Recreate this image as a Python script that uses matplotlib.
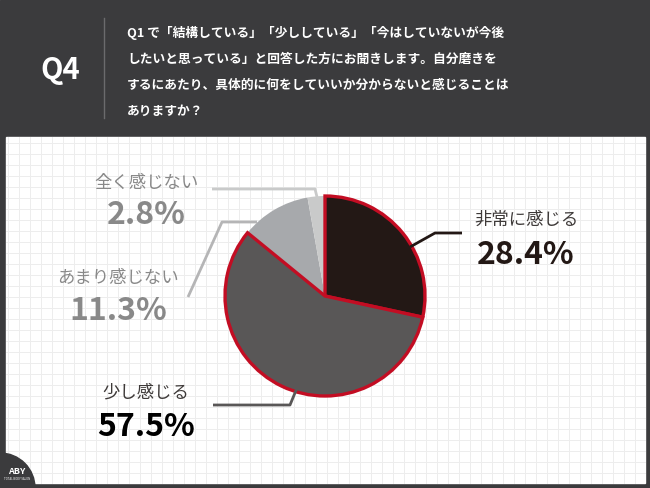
import matplotlib.pyplot as plt
from matplotlib.patches import Rectangle, Circle
import numpy as np

plt.rcParams['font.family'] = ['Noto Sans CJK JP', 'DejaVu Sans']

# データ
kategorie = ["非常に感じる", "少し感じる", "あまり感じない", "全く感じない"]
wartosci = [28.4, 57.5, 11.3, 2.8]
boje = ["#231815", "#595757", "#a7a9ac", "#c9caca"]
crveni_rub = [True, True, False, False]

naslov_q = "Q4"
pitanje = ["Q1 で「結構している」「少ししている」「今はしていないが今後",
           "したいと思っている」と回答した方にお聞きします。自分磨きを",
           "するにあたり、具体的に何をしていいか分からないと感じることは",
           "ありますか？"]

W, H = 650, 488
fig = plt.figure(figsize=(W / 100, H / 100), dpi=100)
ax = fig.add_axes([0, 0, 1, 1])

tamna = "#3b3b3d"
crvena = "#c30d23"

# okvir i bijela ploca
ax.add_patch(Rectangle((0, 0), W, H, color=tamna, zorder=0))
ax.add_patch(Rectangle((6, 137), 639, 346, color="white", zorder=0.5))
for gx in np.arange(8, 645, 11):
    ax.plot([gx, gx], [137, 483], color="#ededed", lw=0.7, zorder=0.6)
for gy in np.arange(143, 483, 11):
    ax.plot([6, 645], [gy, gy], color="#ededed", lw=0.7, zorder=0.6)

# zaglavlje
ax.text(60, 70, naslov_q, color="white", fontsize=21, fontweight="bold",
        ha="center", va="center", zorder=5)
ax.plot([104, 104], [18, 118], color="#6b6b6d", lw=1, zorder=5)
for i, red in enumerate(pitanje):
    ax.text(127, 33 + i * 26, red, color="white", fontsize=9.2, fontweight="bold",
            ha="left", va="center", zorder=5)

# pita
wedges, _ = ax.pie(wartosci, colors=boje, startangle=-90, counterclock=True,
                   center=(325, 296), radius=100,
                   wedgeprops=dict(linewidth=0))
for w, rub in zip(wedges, crveni_rub):
    if rub:
        w.set_edgecolor(crvena)
        w.set_linewidth(2.4)
        w.set_joinstyle("miter")
        w.set_zorder(3)
    else:
        w.set_zorder(2)

# vodilice
linije = [
    ([410, 435, 462], [247, 233, 233], "#231815"),
    ([297, 290, 213], [388, 405, 405], "#595757"),
    ([257, 222, 188], [222, 222, 297], "#b5b5b6"),
    ([317, 315, 212], [197, 189, 189], "#c9caca"),
]
for xs, ys, c in linije:
    ax.plot(xs, ys, color=c, lw=2, zorder=4, solid_capstyle="butt")

# oznake
oznake = [
    (526, 220, 255, "#3e3a39", "#231815"),
    (146, 392, 427, "#3e3a39", "#000000"),
    (118, 278, 311, "#898989", "#898989"),
    (146, 183, 215, "#898989", "#898989"),
]
for (x, y1, y2, c1, c2), ime, v in zip(oznake, kategorie, wartosci):
    ax.text(x, y1, ime, color=c1, fontsize=12.5, ha="center", va="center", zorder=5)
    ax.text(x, y2, f"{v:.1f}%", color=c2, fontsize=23, fontweight="bold",
            ha="center", va="center", zorder=5)

# logo dolje lijevo
ax.add_patch(Circle((0, 488), 35, color=tamna, zorder=6))
ax.text(17, 472, "ABY", color="white", fontsize=6.5, fontweight="bold",
        ha="center", va="center", zorder=7)
ax.text(17, 479, "TOTAL BODY SALON", color="white", fontsize=2, ha="center",
        va="center", zorder=7)

ax.set_xlim(0, W)
ax.set_ylim(H, 0)
ax.set_aspect("equal")
ax.axis("off")

fig.savefig("out.png", dpi=100)
